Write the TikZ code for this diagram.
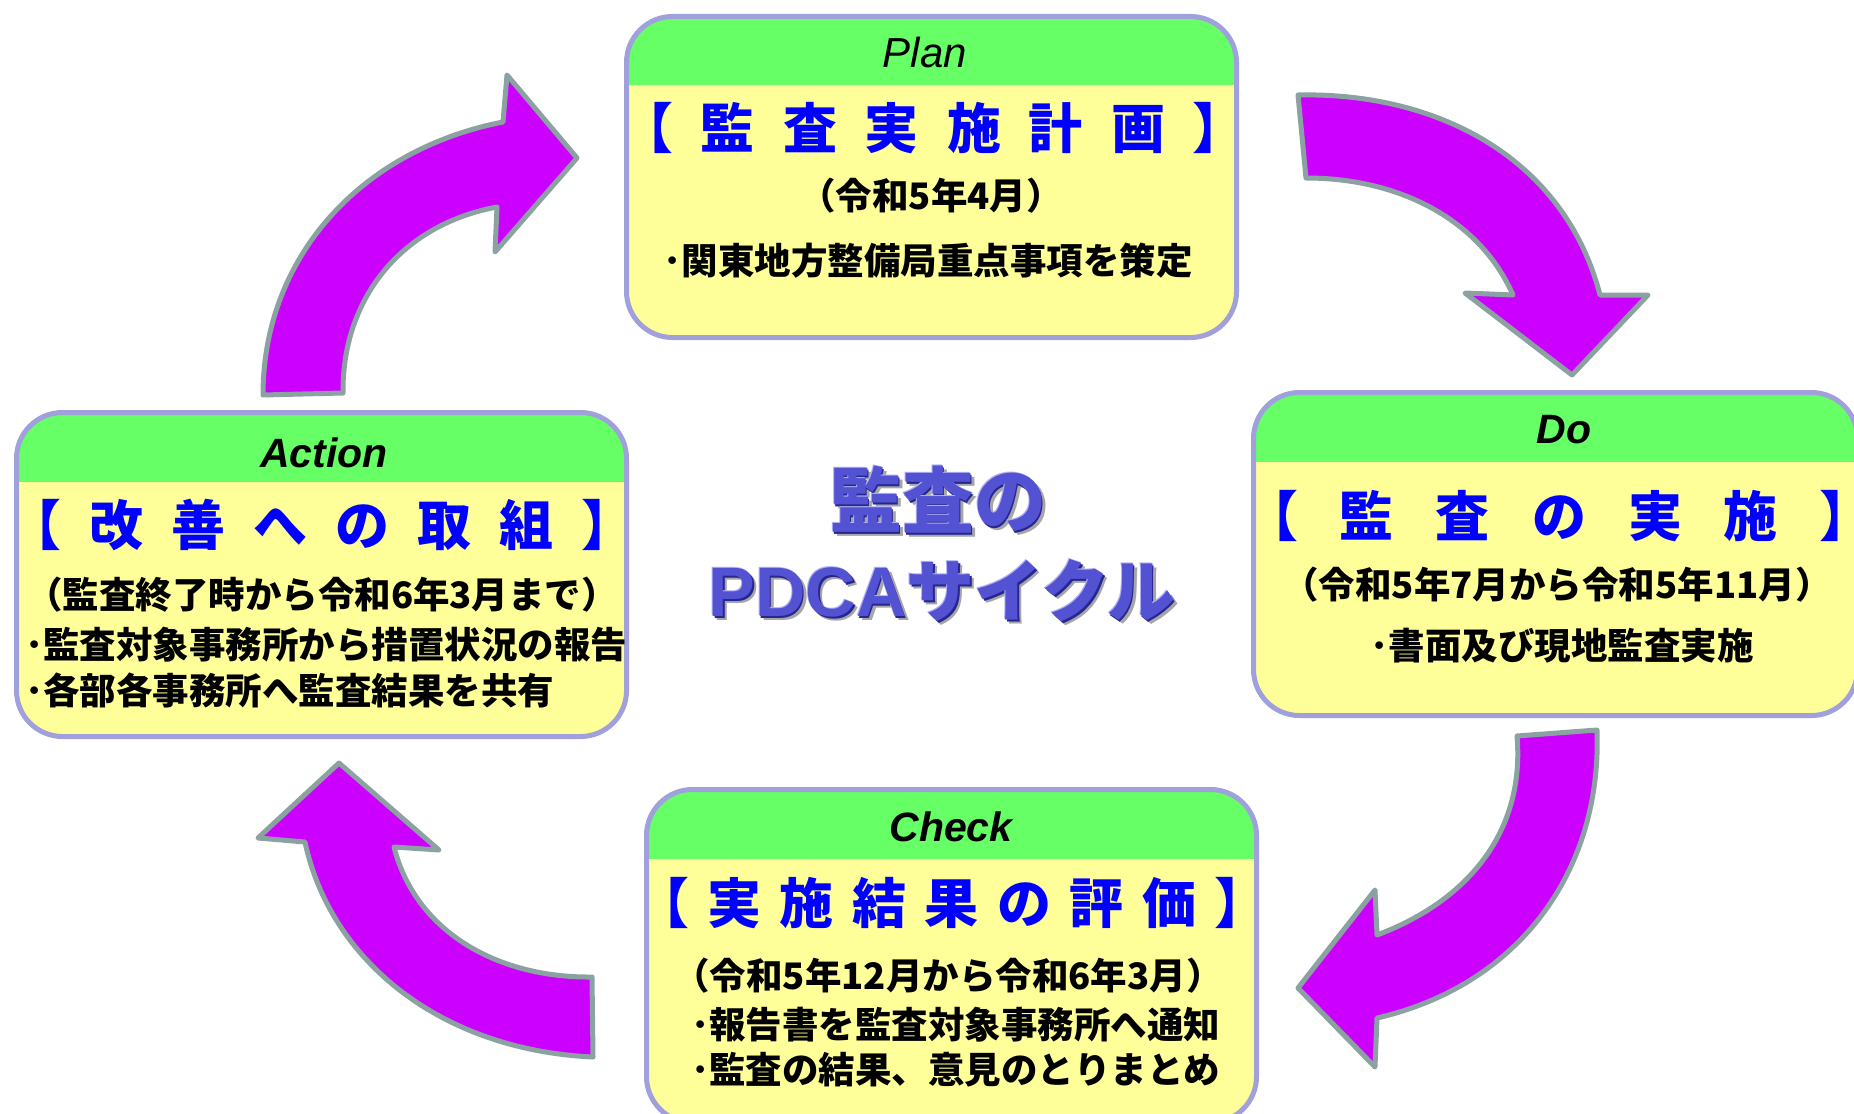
\documentclass[tikz,border=0pt]{standalone}
\usepackage{fontspec}
\newfontfamily\jpfont{Noto Sans CJK JP}
\newfontfamily\lsans{Liberation Sans}
\definecolor{boxyellow}{HTML}{FFFF99}
\definecolor{headgreen}{HTML}{66FF66}
\definecolor{boxline}{HTML}{A0A0DC}
\definecolor{headblue}{HTML}{0000FF}
\definecolor{arrowfill}{HTML}{CC00FF}
\definecolor{arrowline}{HTML}{8CA2A2}
\definecolor{titleblue}{HTML}{5252D2}
\definecolor{titledark}{HTML}{262690}
\definecolor{titlelight}{HTML}{B0B0F6}
\newcommand\hg[1]{\hspace{#1pt}}
\begin{document}
\begin{tikzpicture}[x=1pt,y=-1pt,
  pdcabox/.style={draw=boxline, line width=5pt, fill=boxyellow, rounded corners=46pt,
    inner sep=0pt, minimum width=610pt, minimum height=#1,
    path picture={\fill[headgreen, sharp corners] ([yshift=10pt]path picture bounding box.north west)
      rectangle ([yshift=-69pt]path picture bounding box.north east);}},
  planlbl/.style={font=\lsans\itshape\fontsize{42}{46}\selectfont, inner sep=0pt},
  boldlbl/.style={font=\lsans\bfseries\itshape\fontsize{41}{46}\selectfont, inner sep=0pt},
  bluehead/.style={text=headblue, font=\jpfont\bfseries\fontsize{54}{60}\selectfont, inner sep=0pt},
  bodytxt/.style={font=\jpfont\bfseries\fontsize{36.5}{40}\selectfont, inner sep=0pt},
  titletxt/.style={font=\jpfont\bfseries\fontsize{72}{80}\selectfont, inner sep=0pt},
  bigarrow/.style={fill=arrowfill, draw=arrowline, line width=5pt, line join=round}
]
\useasboundingbox (0,0) rectangle (1854,1113);
\fill[white] (0,0) rectangle (1854,1113);
\clip (0,0) rectangle (1854,1113);

% ---- arrows
\draw[bigarrow] (263,395) .. controls (263,258) and (360,150) .. (503,122) -- (507,75) -- (577,158)
  -- (495,252) -- (497,207) .. controls (400,225) and (342,300) .. (343,393) -- cycle;
\draw[bigarrow] (1298,95) .. controls (1440,92) and (1565,160) .. (1600,295) -- (1648,295) -- (1572,375)
  -- (1465,293) -- (1513,295) .. controls (1480,220) and (1400,178) .. (1306,178) -- cycle;
\draw[bigarrow] (1517,736) -- (1597,730) .. controls (1602,870) and (1520,985) .. (1377,1018) -- (1375,1067)
  -- (1298,988) -- (1375,890) -- (1377,935) .. controls (1470,900) and (1525,830) .. (1517,736) -- cycle;
\draw[bigarrow] (592,977) -- (593,1057) .. controls (440,1050) and (330,960) .. (305,842) -- (258,838)
  -- (339,763) -- (439,850) -- (394,847) .. controls (415,930) and (495,978) .. (592,977) -- cycle;

% ---- boxes
\node[pdcabox=321pt] (plan) at (931.5,177) {};
\node[pdcabox=324pt] (action) at (321.5,574.5) {};
\node[pdcabox=323pt, minimum width=604pt] (do) at (1555.5,554) {};
\node[pdcabox=333pt] (check) at (951.5,956) {};

% ---- Plan
\node[planlbl] (planT) at (925,52) {Plan};
\node[bluehead] (planH) at (933,128) {【\hg{28}監\hg{28}査\hg{28}実\hg{28}施\hg{28}計\hg{28}画\hg{28}】};
\node[bodytxt] (planD) at (931,196) {（令和5年4月）};
\node[bodytxt] (planI) at (928,261) {･関東地方整備局重点事項を策定};

% ---- Action
\node[boldlbl] (actT) at (324,453) {Action};
\node[bluehead] (actH) at (322,525) {【\hg{28}改\hg{28}善\hg{28}へ\hg{28}の\hg{28}取\hg{28}組\hg{28}】};
\node[bodytxt] (actD) at (322,595) {（監査終了時から令和6年3月まで）};
\node[bodytxt, anchor=west] (actI1) at (25,645) {･監査対象事務所から措置状況の報告};
\node[bodytxt, anchor=west] (actI2) at (25,690) {･各部各事務所へ監査結果を共有};

% ---- Do
\node[boldlbl] (doT) at (1564,430) {Do};
\node[bluehead] (doH) at (1559,516) {【\hg{42}監\hg{42}査\hg{42}の\hg{42}実\hg{42}施\hg{42}】};
\node[bodytxt] (doD) at (1557,585) {（令和5年7月から令和5年11月）};
\node[bodytxt] (doI) at (1562,646) {･書面及び現地監査実施};

% ---- Check
\node[boldlbl] (chkT) at (951,827) {Check};
\node[bluehead] (chkH) at (952,903) {【\hg{18.5}実\hg{18.5}施\hg{18.5}結\hg{18.5}果\hg{18.5}の\hg{18.5}評\hg{18.5}価\hg{18.5}】};
\node[bodytxt] (chkD) at (948,976) {（令和5年12月から令和6年3月）};
\node[bodytxt, anchor=west] (chkI1) at (691,1025) {･報告書を監査対象事務所へ通知};
\node[bodytxt, anchor=west] (chkI2) at (691,1070) {･監査の結果、意見のとりまとめ};

% ---- centre title
\node[titletxt, text=black, text opacity=0.35] (tAs) at (942,504) {監査の};
\node[titletxt, text=titledark] (tAd) at (939.5,501.5) {監査の};
\node[titletxt, text=titlelight] (tAl) at (937,499) {監査の};
\node[titletxt, text=titleblue] (tAm) at (938,500) {監査の};
\node[titletxt, text=black, text opacity=0.35] (tBs) at (946,595) {{\lsans\fontsize{70}{80}\selectfont PDCA}{\fontsize{68}{80}\selectfont サイクル}};
\node[titletxt, text=titledark] (tBd) at (943.5,592.5) {{\lsans\fontsize{70}{80}\selectfont PDCA}{\fontsize{68}{80}\selectfont サイクル}};
\node[titletxt, text=titlelight] (tBl) at (941,590) {{\lsans\fontsize{70}{80}\selectfont PDCA}{\fontsize{68}{80}\selectfont サイクル}};
\node[titletxt, text=titleblue] (tBm) at (942,591) {{\lsans\fontsize{70}{80}\selectfont PDCA}{\fontsize{68}{80}\selectfont サイクル}};
\end{tikzpicture}
\end{document}
